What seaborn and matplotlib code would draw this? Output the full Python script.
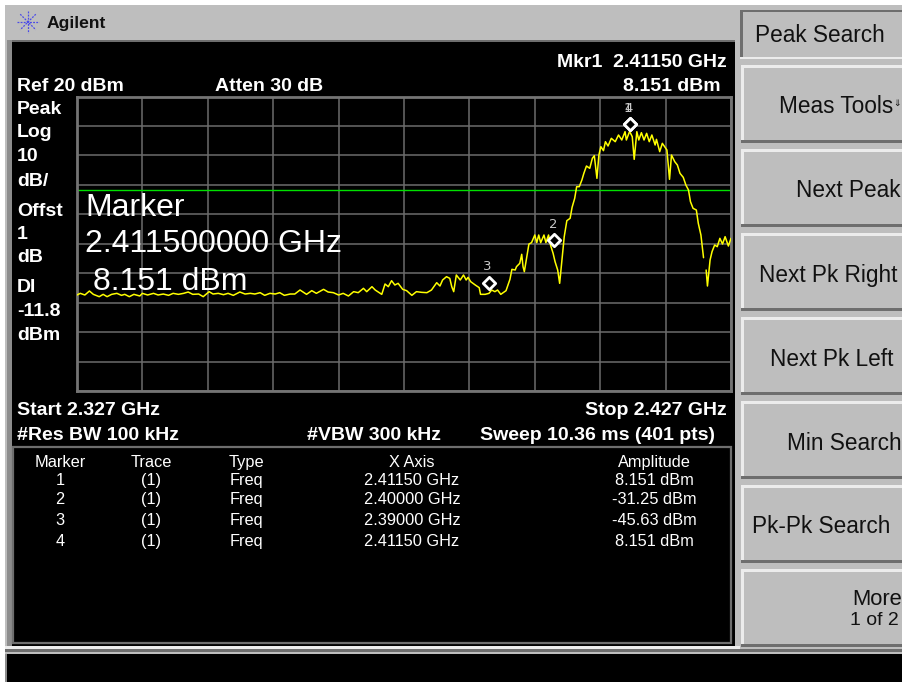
import numpy as np
import pandas as pd
import matplotlib
matplotlib.use("Agg")
import matplotlib.pyplot as plt
from matplotlib.patches import Rectangle
from matplotlib.transforms import ScaledTranslation
import seaborn as sns

# ---------- data ----------
freq_ghz = [2.3270,2.3275,2.3282,2.3289,2.3295,2.3304,2.3310,2.3316,2.3323,2.3331,2.3338,2.3343,2.3350,2.3357,2.3366,2.3370,2.3378,2.3387,2.3394,2.3402,2.3410,2.3417,2.3425,2.3433,2.3440,2.3447,2.3456,2.3463,2.3472,2.3478,2.3486,2.3494,2.3501,2.3509,2.3519,2.3527,2.3535,2.3542,2.3550,2.3557,2.3565,2.3573,2.3580,2.3587,2.3596,2.3603,2.3611,2.3621,2.3629,2.3636,2.3647,2.3654,2.3662,2.3670,2.3677,2.3685,2.3693,2.3700,2.3708,2.3713,2.3721,2.3726,2.3736,2.3741,2.3746,2.3751,2.3756,2.3761,2.3768,2.3774,2.3782,2.3789,2.3797,2.3805,2.3812,2.3820,
            2.3825,2.3829,2.3835,2.3840,2.3843,2.3846,2.3850,2.3856,2.3861,2.3865,2.3868,2.3872,2.3879,2.3885,2.3887,2.3894,2.3900,2.3904,2.3909,2.3913,2.3918,2.3926,2.3932,2.3935,2.3940,2.3942,2.3947,2.3950,2.3952,2.3954,2.3961,2.3965,2.3970,2.3973,2.3976,2.3979,2.3984,2.3987,2.3991,2.3994,2.3998,2.4001,2.4005,2.4008,2.4012,2.4015,2.4019,2.4024,2.4027,2.4031,2.4034,2.4038,2.4042,2.4045,2.4049,2.4054,2.4058,2.4061,2.4065,2.4068,2.4071,2.4075,2.4078,2.4082,2.4087,2.4093,2.4098,2.4103,2.4108,2.4110,2.4115,2.4119,2.4122,2.4126,2.4129,2.4133,2.4137,2.4141,2.4145,2.4149,2.4154,2.4156,2.4161,2.4165,2.4172,2.4176,2.4179,2.4184,2.4188,2.4192,2.4197,2.4201,2.4205,2.4208,2.4212,2.4217,2.4220,2.4224,2.4228,
            2.4232,2.4234,2.4238,2.4241,2.4245,2.4249,2.4253,2.4257,2.4261,2.4266,2.4270]
power_dbm = [-47.40,-46.84,-47.40,-46.05,-47.18,-47.97,-47.18,-47.97,-47.18,-46.84,-47.52,-47.18,-47.97,-47.18,-47.74,-46.84,-47.40,-46.84,-47.40,-47.07,-47.52,-46.84,-47.18,-46.84,-46.39,-47.18,-47.07,-47.97,-46.27,-47.07,-46.84,-47.29,-46.84,-47.52,-46.39,-47.07,-46.84,-47.07,-46.61,-47.52,-46.84,-47.07,-46.61,-47.52,-47.07,-47.07,-45.71,-47.18,-45.93,-46.84,-45.48,-46.39,-46.61,-47.40,-46.84,-47.74,-46.27,-46.61,-45.14,-46.27,-44.58,-45.71,-47.18,-43.67,-44.58,-42.54,-44.01,-43.44,-45.48,-45.93,-47.52,-46.27,-46.50,-46.61,-45.71,-43.22,
             -44.35,-42.31,-41.18,-41.75,-44.57,-46.27,-40.61,-42.31,-40.61,-42.31,-41.41,-42.88,-44.01,-44.91,-47.18,-47.18,-46.84,-45.71,-46.27,-45.71,-47.18,-45.93,-42.08,-38.69,-38.92,-37.78,-36.65,-33.59,-37.78,-39.48,-30.09,-29.63,-27.03,-29.63,-27.03,-29.63,-27.03,-29.63,-27.03,-30.43,-33.26,-36.10,-38.92,-43.44,-34.39,-27.60,-22.16,-21.37,-17.64,-14.58,-10.62,-10.62,-8.35,-6.09,-3.60,-4.39,-1.00,-0.09,-7.79,0.13,2.96,1.61,4.66,3.19,5.80,4.66,6.93,5.23,8.06,5.23,8.15,6.36,-1.34,8.06,5.23,7.72,5.23,7.49,4.66,6.93,3.53,5.46,1.27,4.10,1.83,-8.13,0.13,-2.13,-3.26,-6.09,-7.45,-10.05,-11.75,-15.71,-17.98,-18.54,-23.07,-27.03,-34.73,
             -38.92,-44.35,-35.52,-32.69,-30.43,-31.00,-28.16,-30.09,-27.60,-30.77,-28.16]
marker_ids = ["1", "2", "3", "4"]
marker_freq = [2.41150, 2.40000, 2.39000, 2.41150]
marker_amp = [8.151, -31.25, -45.63, 8.151]
display_line = -11.8

table_headers = ["Marker", "Trace", "Type", "X Axis", "Amplitude"]
table_trace = ["(1)", "(1)", "(1)", "(1)"]
table_type = ["Freq", "Freq", "Freq", "Freq"]
table_x = ["2.41150 GHz", "2.40000 GHz", "2.39000 GHz", "2.41150 GHz"]
table_amp = ["8.151 dBm", "-31.25 dBm", "-45.63 dBm", "8.151 dBm"]
side_labels = ["Peak", "Log", "10", "dB/", "Offst", "1", "dB", "DI", "-11.8", "dBm"]
softkeys = ["Meas Tools", "Next Peak", "Next Pk Right", "Next Pk Left", "Min Search", "Pk-Pk Search"]

# ---------- layout ----------
W, H = 902, 682
sns.set_theme(style="white")
plt.rcParams["font.family"] = ["Liberation Sans", "DejaVu Sans"]
fig = plt.figure(figsize=(W / 100, H / 100), dpi=100, facecolor="white")

bg = fig.add_axes([0, 0, 1, 1], zorder=0)
bg.set_xlim(0, W); bg.set_ylim(H, 0); bg.axis("off")

GREY = "#bebebe"; DARK = "#6e6e6e"; LIGHT = "#ececec"

def box(x0, y0, x1, y1, fc, ec="none", lw=0, z=1):
    bg.add_patch(Rectangle((x0, y0), x1 - x0, y1 - y0, fc=fc, ec=ec, lw=lw, zorder=z))

def label(px, py, s, size=14, color="white", weight="normal", ha="left", family=None):
    kw = {"family": family} if family else {}
    base = py + 0.36 * size * 100 / 72
    fig.text(px / W, 1 - base / H, s, fontsize=size, color=color, weight=weight,
             ha=ha, va="baseline", zorder=5, **kw)

# instrument body
box(5, 5, W, H, GREY)
box(5, 40, 736, 650, GREY)
box(7, 40, 12, 650, "#8c8c8c")
box(12, 40, 735, 42, DARK)
box(12, 42, 735, 646, "#000000", z=2)
box(5, 646, 740, 649, LIGHT)
box(5, 649, W, 652, DARK)
box(6, 654, W, H, "#000000")
box(5, 654, 7, H, "#8c8c8c")
# marker table frame
bg.add_patch(Rectangle((13, 447), 718, 196, fc="none", ec=DARK, lw=1.6, zorder=3))

# softkeys
box(740, 10, W, 57, GREY, z=2)
box(740, 10, W, 12, DARK, z=3)
box(740, 10, 743, 57, DARK, z=3)
box(740, 57, W, 59, LIGHT, z=3)
for top in [65, 149, 233, 317, 401, 485, 569]:
    box(741, top, W, top + 77, GREY, z=2)
    box(741, top, W, top + 2.5, LIGHT, z=3)
    box(741, top, 744, top + 77, LIGHT, z=3)
    box(741, top + 75, W, top + 78, DARK, z=3)

# Agilent spark
cx, cy = 28, 22
for a in np.arange(0, 180, 45):
    dx, dy = np.cos(np.radians(a)), np.sin(np.radians(a))
    bg.plot([cx - 11 * dx, cx + 11 * dx], [cy - 11 * dy, cy + 11 * dy], color="#4a4ae8",
            lw=0.9, ls=(0, (1.5, 1)), zorder=3)

# ---------- spectrum ----------
ax = fig.add_axes([77 / W, 1 - 391 / H, 654 / W, 294.5 / H], zorder=1)
ax.set_facecolor("black")
trace = pd.DataFrame({"freq": freq_ghz, "power": power_dbm})
trace["segment"] = (trace["freq"] > 2.4230).astype(int)
ax.set_xlim(2.327, 2.427)
ax.set_ylim(-80, 20)
ax.set_xticks(np.linspace(2.327, 2.427, 11))
ax.set_yticks(np.arange(-80, 21, 10))
ax.grid(True, color="#6c6c6c", lw=1.1)
ax.set_axisbelow(True)
ax.tick_params(left=False, bottom=False, labelleft=False, labelbottom=False)
for s in ax.spines.values():
    s.set_color("#747474"); s.set_linewidth(2.0); s.set_visible(True)
ax.axhline(display_line, color="#00e000", lw=1.0, zorder=2)
sns.lineplot(data=trace, x="freq", y="power", units="segment", estimator=None, sort=False,
             color="#ffff00", lw=1.1, ax=ax, legend=False, zorder=3)
ax.set_xlabel(""); ax.set_ylabel("")

lift = ax.transData + ScaledTranslation(0, 7 / 100, fig.dpi_scale_trans)
mk = pd.DataFrame({"f": marker_freq, "a": marker_amp})
sns.scatterplot(data=mk, x="f", y="a", marker="D", s=40, facecolor="black", edgecolor="white",
                linewidth=2.0, transform=lift, ax=ax, legend=False, zorder=4, clip_on=False)
ax.set_xlabel(""); ax.set_ylabel("")
for i, f, a in zip(marker_ids, marker_freq, marker_amp):
    ax.annotate(i, (f, a), xytext=(-1, 16.5), textcoords="offset points", ha="center", va="center",
                color="#c8c8c8", fontsize=9.5, family="DejaVu Sans", zorder=5)

# ---------- texts ----------
label(47, 22, "Agilent", size=12.6, color="#111111", weight="bold")
B = {"size": 14, "weight": "bold"}
label(727, 60, "Mkr1  2.41150 GHz", ha="right", **B)
label(17, 84, "Ref 20 dBm", **B)
label(215, 84, "Atten 30 dB", **B)
label(721, 84, "8.151 dBm", ha="right", **B)
for s, y in zip(side_labels, [107, 130, 154, 179, 209, 232, 255, 285, 309, 333]):
    label(17, y, s, **B)
label(17, 408, "Start 2.327 GHz", **B)
label(727, 408, "Stop 2.427 GHz", ha="right", **B)
label(17, 433, "#Res BW 100 kHz", **B)
label(307, 433, "#VBW 300 kHz", **B)
label(715, 433, "Sweep 10.36 ms (401 pts)", ha="right", **B)

label(85, 205, "Marker", size=23)
label(85, 240, "2.411500000 GHz", size=23)
label(93, 278, "8.151 dBm", size=23)

col_x = [60, 151, 246, 412, 654]
for s, x in zip(table_headers, col_x):
    label(x, 461, s, size=11.8, ha="center")
for k, y in enumerate([479, 498, 519, 540]):
    row = [marker_ids[k], table_trace[k], table_type[k], table_x[k], table_amp[k]]
    for s, x in zip(row, col_x):
        label(x, y, s, size=11.8, ha="center")

label(755, 34, "Peak Search", size=16.3, color="#111111")
for s, x, y in zip(softkeys, [779, 796, 759, 770, 787, 752], [105, 189, 274, 358, 442, 525]):
    label(x, y, s, size=16.3, color="#111111")
label(893, 103, "\u21d3", size=6.5, color="#111111", family=["DejaVu Sans"])
label(852, 597, "More", size=15.8, color="#111111")
label(850, 618, "1 of 2", size=14, color="#111111")

fig.savefig("out.png", dpi=100, facecolor="white")
